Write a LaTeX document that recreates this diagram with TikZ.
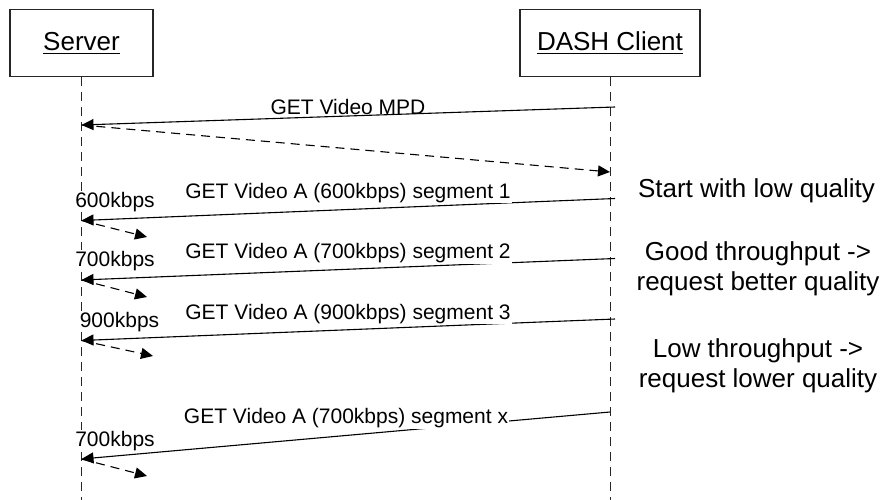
\documentclass[tikz,border=0pt]{standalone}
\usepackage{fontspec}
\setmainfont{Liberation Sans}
\usetikzlibrary{arrows.meta}
\begin{document}
\begin{tikzpicture}[x=1pt,y=-1pt,
  actor/.style={draw=black!85, line width=1.2pt, minimum width=143pt, minimum height=67pt, inner sep=0pt},
  actorwide/.style={actor, minimum width=180pt},
  ttl/.style={font=\fontsize{26}{30}\selectfont, inner sep=0pt},
  uline/.style={line width=1.1pt},
  lifeline/.style={draw=black!85, line width=1pt, dash pattern=on 9pt off 6pt},
  req/.style={line width=1.1pt, -{Triangle[length=12pt,width=11pt]}},
  resp/.style={req, dash pattern=on 9pt off 6pt},
  msg/.style={font=\fontsize{21}{25}\selectfont, inner sep=1pt, fill=white},
  plainmsg/.style={font=\fontsize{21}{25}\selectfont, inner sep=0pt},
  note/.style={font=\fontsize{26}{30}\selectfont, align=center, inner sep=0pt},
]
\useasboundingbox (0,0) rectangle (896,500);

% actors
\node[actor] (server) at (81.5,43) {};
\node[actorwide] (client) at (610,43) {};
\node[ttl, anchor=base] (servert) at (81.5,51) {Server};
\node[ttl, anchor=base] (clientt) at (610,51) {DASH Client};
\draw[uline] ([yshift=-2.3pt]servert.base west) -- ([yshift=-2.3pt]servert.base east);
\draw[uline] ([yshift=-2.3pt]clientt.base west) -- ([yshift=-2.3pt]clientt.base east);

% lifelines
\coordinate (srvend) at (81.5,500);
\coordinate (cliend) at (610,500);
\draw[lifeline] (server.south) -- (srvend);
\draw[lifeline] (client.south) -- (cliend);

% message points
\coordinate (c1) at (615,107);   \coordinate (s1) at (81.5,125);
\coordinate (c2) at (610,172);
\coordinate (c3) at (615,198.5); \coordinate (s3) at (81.5,220.5); \coordinate (r3) at (147,237);
\coordinate (c4) at (615,258.5); \coordinate (s4) at (81.5,280);   \coordinate (r4) at (147,297);
\coordinate (c5) at (615,319);   \coordinate (s5) at (81.5,340.5); \coordinate (r5) at (153,356);
\coordinate (c6) at (610,412);   \coordinate (s6) at (81.5,459);   \coordinate (r6) at (147,476);

% messages
\draw[req] (c1) -- (s1);
\draw[resp] (s1) -- (c2);
\draw[req] (c3) -- (s3);
\draw[resp] (s3) -- (r3);
\draw[req] (c4) -- (s4);
\draw[resp] (s4) -- (r4);
\draw[req] (c5) -- (s5);
\draw[resp] (s5) -- (r5);
\draw[req] (c6) -- (s6);
\draw[resp] (s6) -- (r6);

% message labels
\node[plainmsg, anchor=base] (l1) at (348,115) {GET Video MPD};
\node[msg, anchor=base] (l3) at (348,198) {GET Video A (600kbps) segment 1};
\node[msg, anchor=base] (l4) at (348,258.5) {GET Video A (700kbps) segment 2};
\node[msg, anchor=base] (l5) at (348,319) {GET Video A (900kbps) segment 3};
\node[msg, anchor=base] (l6) at (346,423.5) {GET Video A (700kbps) segment x};

\node[msg, anchor=base] (k3) at (115,207) {600kbps};
\node[msg, anchor=base] (k4) at (115,266) {700kbps};
\node[msg, anchor=base] (k5) at (119.5,327) {900kbps};
\node[msg, anchor=base] (k6) at (115,446) {700kbps};

% notes
\node[note, anchor=base] (n1) at (756.5,197) {Start with low quality};
\node[note, anchor=base] (n2) at (758,290) {Good throughput ->\\request better quality};
\node[note, anchor=base] (n3) at (758,387) {Low throughput ->\\request lower quality};
\end{tikzpicture}
\end{document}
